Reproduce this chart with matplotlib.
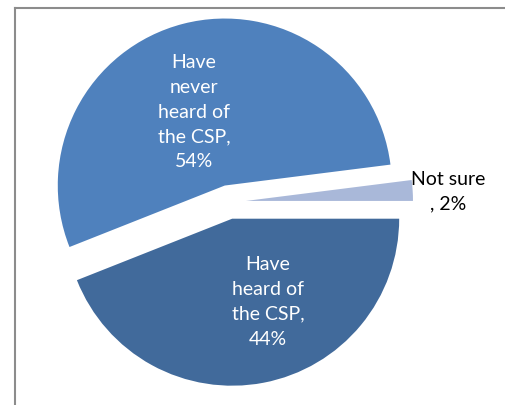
import matplotlib
matplotlib.use("Agg")
import matplotlib.pyplot as plt
from matplotlib.lines import Line2D

# Data
labels = ["Not sure\n, 2%", "Have\nnever\nheard of\nthe CSP,\n54%", "Have\nheard of\nthe CSP,\n44%"]
values = [2, 54, 44]
colors = ["#A9B8D9", "#4F81BD", "#416A9B"]

W, H = 505, 405
R = 167
fig = plt.figure(figsize=(W / 100, H / 100), dpi=100)
ax = fig.add_axes([0, 0, 1, 1])

wedges, texts = ax.pie(values, colors=colors, explode=[17, 17, 17], startangle=0,
                       counterclock=True, center=(229, 203), radius=R,
                       frame=True, wedgeprops=dict(linewidth=0))

ax.set_xlim(0, W)
ax.set_ylim(0, H)
ax.set_aspect("equal")
ax.axis("off")

font = "Lato"
fs = 14
ls = 1.55
ax.text(448, H - 192, labels[0], ha="center", va="center", fontsize=fs,
        color="black", family=font, linespacing=ls)
ax.text(194, H - 112, labels[1], ha="center", va="center", fontsize=fs,
        color="white", family=font, linespacing=ls)
ax.text(268, H - 302, labels[2], ha="center", va="center", fontsize=fs,
        color="white", family=font, linespacing=ls)

# chart frame (partially visible)
fig.add_artist(Line2D([15 / W, 15 / W], [0, 1 - 8 / H], transform=fig.transFigure,
                      color="#8c8c8c", linewidth=1.5))
fig.add_artist(Line2D([15 / W, 1], [1 - 8 / H, 1 - 8 / H], transform=fig.transFigure,
                      color="#8c8c8c", linewidth=1.5))

fig.savefig("out.png", dpi=100)
